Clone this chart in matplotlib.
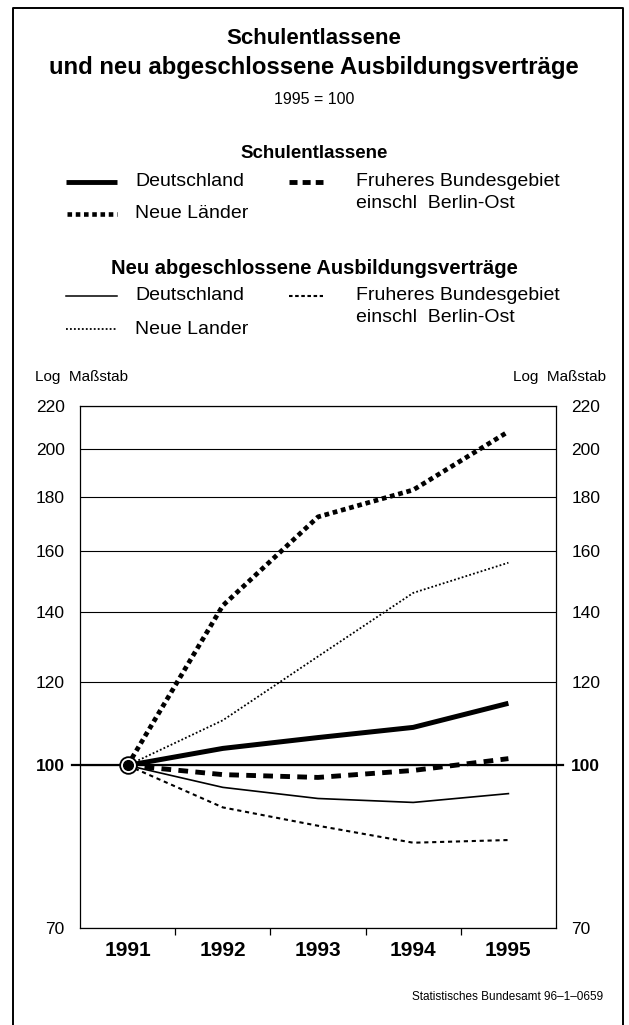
import matplotlib
matplotlib.use("Agg")
import matplotlib.pyplot as plt
from matplotlib.lines import Line2D

plt.rcParams['font.family'] = ['Liberation Sans', 'DejaVu Sans']

# index values, 1991 = 100
years = [1991, 1992, 1993, 1994, 1995]
schul_de = [100, 103.8, 106.3, 108.7, 114.6]
schul_west = [100, 98.0, 97.4, 98.9, 101.5]
schul_ost = [100, 142, 172.5, 183, 208]
ausb_de = [100, 95.3, 93.0, 92.2, 94.0]
ausb_west = [100, 91.2, 87.6, 84.4, 84.9]
ausb_ost = [100, 110.4, 127, 146, 156]
yticks = [70, 100, 120, 140, 160, 180, 200, 220]

W, H = 629, 1025
fig = plt.figure(figsize=(W / 100, H / 100), dpi=100)


def fx(x):
    return x / W


def fy(y):
    return 1 - y / H


def txt(x, y, s, **kw):
    fig.text(fx(x), fy(y), s, va='center', **kw)


def legline(x0, x1, y, **kw):
    fig.add_artist(Line2D([fx(x0), fx(x1)], [fy(y), fy(y)], color='black',
                          transform=fig.transFigure, **kw))


# outer frame
fig.add_artist(Line2D([fx(13), fx(13), fx(623), fx(623)],
                      [fy(1025), fy(8), fy(8), fy(1025)],
                      color='black', lw=1.4, transform=fig.transFigure))

# titles
txt(314, 39, 'Schulentlassene', ha='center', fontsize=16, fontweight='bold')
txt(314, 67, 'und neu abgeschlossene Ausbildungsverträge', ha='center',
    fontsize=17.2, fontweight='bold')
txt(314, 100, '1995 = 100', ha='center', fontsize=11.5)

# legend part 1
txt(314, 154, 'Schulentlassene', ha='center', fontsize=13.5, fontweight='bold')
legline(66, 117, 182, lw=3.5, solid_capstyle='butt')
txt(135, 182, 'Deutschland', fontsize=14)
legline(289, 323, 182, lw=3.5, dashes=(1.65, 1.05), dash_capstyle='butt')
txt(356, 182, 'Fruheres Bundesgebiet', fontsize=14)
txt(356, 203, 'einschl  Berlin-Ost', fontsize=14)
legline(67, 117, 214, lw=3.3, dashes=(1, 0.8), dash_capstyle='butt')
txt(135, 214, 'Neue Länder', fontsize=14)

# legend part 2
txt(314, 268, 'Neu abgeschlossene Ausbildungsverträge', ha='center',
    fontsize=14.5, fontweight='bold')
legline(66, 117, 296, lw=1.1)
txt(135, 296, 'Deutschland', fontsize=14)
legline(289, 323, 296, lw=1.5, dashes=(1.7, 1.25), dash_capstyle='butt')
txt(356, 296, 'Fruheres Bundesgebiet', fontsize=14)
txt(356, 317, 'einschl  Berlin-Ost', fontsize=14)
legline(66, 117, 329, lw=1.3, dashes=(1, 1.2), dash_capstyle='butt')
txt(135, 329, 'Neue Lander', fontsize=14)

txt(35, 377, 'Log  Maßstab', fontsize=11)
txt(606, 377, 'Log  Maßstab', ha='right', fontsize=11)

# chart
ax = fig.add_axes([fx(80), fy(928), fx(556) - fx(80), fy(406) - fy(928)])
ax.set_yscale('log')
ax.set_ylim(70, 220)
ax.set_xlim(1990.5, 1995.5)

ax.plot(years, ausb_west, color='black', lw=1.5, dashes=(2.0, 1.8),
        dash_capstyle='butt', zorder=3)
ax.plot(years, ausb_de, color='black', lw=1.2, zorder=3)
ax.plot(years, ausb_ost, color='black', lw=1.3, dashes=(1, 1.2),
        dash_capstyle='butt', zorder=3)
ax.plot(years, schul_west, color='black', lw=3.5, dashes=(2.0, 1.5),
        dash_capstyle='butt', zorder=3)
ax.plot(years, schul_de, color='black', lw=3.6, solid_capstyle='butt', zorder=3)
ax.plot(years, schul_ost, color='black', lw=3.4, dashes=(1, 0.8),
        dash_capstyle='butt', zorder=3)

# common start point
ax.plot([years[0]], [schul_de[0]], marker='o', ms=12, mfc='white',
        mec='black', mew=1.3, zorder=5)
ax.plot([years[0]], [schul_de[0]], marker='o', ms=7, mfc='black',
        mec='black', zorder=6)

ax.set_yticks(yticks)
ax.set_yticklabels([str(v) for v in yticks])
ax.yaxis.set_minor_locator(matplotlib.ticker.NullLocator())
ax.tick_params(axis='y', length=0, labelsize=12.5, pad=11,
               labelright=True, right=False)
for t in ax.yaxis.get_major_ticks():
    if t.label1.get_text() == '100':
        t.label1.set_fontweight('bold')
        t.label2.set_fontweight('bold')
ax.grid(axis='y', color='black', lw=0.8)
ax.add_line(Line2D([-0.017, 1.015], [100, 100], color='black', lw=1.6,
                   transform=ax.get_yaxis_transform(), clip_on=False, zorder=2))

ax.set_xticks(years)
ax.set_xticklabels([str(y) for y in years], fontsize=15, fontweight='bold')
ax.set_xticks([1991.5, 1992.5, 1993.5, 1994.5], minor=True)
ax.tick_params(axis='x', which='major', length=0, pad=9)
ax.tick_params(axis='x', which='minor', length=5, width=0.9, direction='out')
for s in ax.spines.values():
    s.set_linewidth(0.9)

txt(603, 997, 'Statistisches Bundesamt 96–1–0659', ha='right', fontsize=8.5)

fig.savefig('out.png', dpi=100)
